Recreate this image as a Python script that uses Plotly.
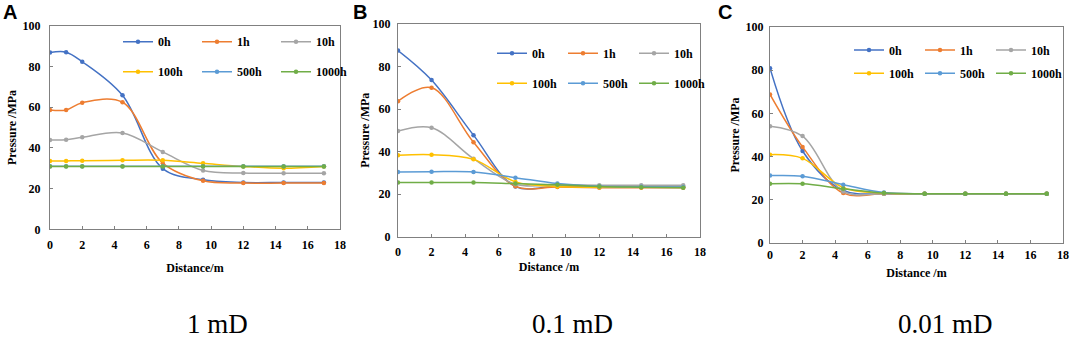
import plotly.graph_objects as go

# ---------------- data ----------------
series_names = ["0h", "1h", "10h", "100h", "500h", "1000h"]
series_colors = ["#4472C4", "#ED7D31", "#A5A5A5", "#FFC000", "#5B9BD5", "#70AD47"]
panel_titles = ["1 mD", "0.1 mD", "0.01 mD"]
panel_letters = ["A", "B", "C"]

dist_a = [0, 1, 2, 4.5, 7, 9.5, 12, 14.5, 17]
a_0h = [86.8, 87.0, 82.3, 65.8, 29.8, 24.3, 23.0, 23.0, 23.0]
a_1h = [58.6, 58.6, 62.2, 62.4, 32.5, 23.8, 22.7, 22.7, 22.7]
a_10h = [43.9, 44.0, 45.2, 47.3, 38.0, 28.9, 27.6, 27.5, 27.5]
a_100h = [33.6, 33.6, 33.7, 33.9, 33.9, 32.4, 30.9, 30.0, 30.9]
a_500h = [31.0, 31.0, 31.0, 31.0, 31.0, 31.0, 31.0, 31.0, 31.0]
a_1000h = [30.9, 30.9, 30.9, 30.9, 30.9, 30.9, 30.9, 30.9, 30.9]

dist_b = [0, 2, 4.5, 7, 9.5, 12, 14.5, 17]
b_0h = [87.5, 73.6, 47.7, 23.5, 23.8, 23.3, 23.3, 23.3]
b_1h = [63.7, 70.0, 44.4, 23.6, 23.3, 23.0, 23.0, 23.0]
b_10h = [49.6, 51.2, 36.6, 24.6, 24.3, 24.1, 24.1, 24.1]
b_100h = [38.2, 38.5, 36.3, 25.7, 23.5, 23.2, 23.2, 23.2]
b_500h = [30.4, 30.5, 30.4, 27.7, 24.9, 23.6, 23.4, 23.3]
b_1000h = [25.4, 25.4, 25.4, 24.9, 24.4, 23.5, 23.2, 23.0]

dist_c = [0, 2, 4.5, 7, 9.5, 12, 14.5, 17]
c_0h = [80.9, 42.6, 24.3, 22.8, 22.8, 22.8, 22.8, 22.8]
c_1h = [68.8, 44.5, 23.1, 22.8, 22.8, 22.8, 22.8, 22.8]
c_10h = [54.1, 49.5, 23.9, 22.8, 22.8, 22.8, 22.8, 22.8]
c_100h = [40.9, 39.2, 25.6, 23.1, 22.8, 22.8, 22.8, 22.8]
c_500h = [31.2, 30.9, 27.0, 23.4, 22.8, 22.8, 22.8, 22.8]
c_1000h = [27.4, 27.4, 25.1, 23.1, 22.8, 22.8, 22.8, 22.8]

x_ticks = [0, 2, 4, 6, 8, 10, 12, 14, 16, 18]
y_ticks = [0, 20, 40, 60, 80, 100]

panels = [
    (dist_a, [a_0h, a_1h, a_10h, a_100h, a_500h, a_1000h]),
    (dist_b, [b_0h, b_1h, b_10h, b_100h, b_500h, b_1000h]),
    (dist_c, [c_0h, c_1h, c_10h, c_100h, c_500h, c_1000h]),
]

# ---------------- layout geometry ----------------
W, H = 1072, 340
boxes = [(50, 340, 25.7, 229.3), (398, 700, 24.0, 236.5), (770, 1063, 27.0, 243.0)]
legend_pos = [(158, 41.7, 71.7, 34), (532, 53.3, 83.3, 26), (889, 50.0, 73.3, 26)]
xtick_standoff = [4, 4, 1]
xtitle_standoff = [12, 4, 7]
ytick_standoff = [6, 4, 3]
ytitle_standoff = [3, 0, 3]

SERIF = "Liberation Serif"
fig = go.Figure()

for p, (xs, ys_list) in enumerate(panels):
    sfx = "" if p == 0 else str(p + 1)
    for i, (name, col, ys) in enumerate(zip(series_names, series_colors, ys_list)):
        leg_idx = p * 2 + (0 if i < 3 else 1)
        leg = "legend" if leg_idx == 0 else f"legend{leg_idx + 1}"
        fig.add_trace(go.Scatter(
            x=xs, y=ys, name="<b>" + name + "</b>", mode="lines+markers",
            line=dict(color=col, width=1.5, shape="spline", smoothing=1.0),
            marker=dict(color=col, size=4.5, symbol="circle"),
            xaxis="x" + sfx, yaxis="y" + sfx, legend=leg,
        ))

layout = dict(
    width=W, height=H,
    margin=dict(l=0, r=0, t=0, b=0),
    paper_bgcolor="white", plot_bgcolor="white",
    font=dict(family=SERIF, size=12, color="#000000"),
    showlegend=True,
)

for p in range(3):
    sfx = "" if p == 0 else str(p + 1)
    l, r, t, b = boxes[p]
    layout["xaxis" + sfx] = dict(
        domain=[l / W, r / W], anchor="y" + sfx, range=[0, 18],
        tickvals=x_ticks, ticks="inside", ticklen=3, tickcolor="#808080",
        ticklabelstandoff=xtick_standoff[p],
        showline=True, linecolor="#808080", linewidth=1, mirror=True,
        showgrid=False, zeroline=False,
        tickfont=dict(family=SERIF, size=12, weight=700),
        title=dict(text="<b>" + ("Distance/m" if p == 0 else "Distance /m") + "</b>",
                   font=dict(family=SERIF, size=12),
                   standoff=xtitle_standoff[p]),
        automargin=False, fixedrange=True,
    )
    layout["yaxis" + sfx] = dict(
        domain=[1 - b / H, 1 - t / H], anchor="x" + sfx, range=[0, 100],
        tickvals=y_ticks, ticks="inside", ticklen=3, tickcolor="#808080",
        ticklabelstandoff=ytick_standoff[p],
        showline=True, linecolor="#808080", linewidth=1, mirror=True,
        showgrid=False, zeroline=False,
        tickfont=dict(family=SERIF, size=12, weight=700),
        title=dict(text="<b>Pressure /MPa</b>",
                   font=dict(family=SERIF, size=12),
                   standoff=ytitle_standoff[p]),
        automargin=False, fixedrange=True,
    )
    tx, r1, r2, ew = legend_pos[p]
    for row, ry in enumerate([r1, r2]):
        leg_idx = p * 2 + row
        key = "legend" if leg_idx == 0 else f"legend{leg_idx + 1}"
        layout[key] = dict(
            orientation="h", x=(tx - 40) / W, xanchor="left",
            y=1 - ry / H, yanchor="middle",
            entrywidth=ew, entrywidthmode="pixels",
            bgcolor="rgba(0,0,0,0)", borderwidth=0,
            font=dict(family=SERIF, size=12),
            itemclick=False, itemdoubleclick=False,
        )

fig.update_layout(**layout)

letter_x = [2, 352, 717]
caption_x = [217, 572, 945]
for p in range(3):
    fig.add_annotation(
        text=panel_letters[p], xref="paper", yref="paper",
        x=letter_x[p] / W, y=1.0, xanchor="left", yanchor="top",
        showarrow=False, borderpad=0,
        font=dict(family="Liberation Sans", size=20, weight="bold", color="#000"),
    )
    fig.add_annotation(
        text=panel_titles[p], xref="paper", yref="paper",
        x=caption_x[p] / W, y=0.0, xanchor="center", yanchor="bottom",
        showarrow=False, borderpad=0,
        font=dict(family=SERIF, size=27, color="#000"),
    )

fig.write_html("out.html", config={"displayModeBar": False},
               post_script="document.body.style.margin='0';")
